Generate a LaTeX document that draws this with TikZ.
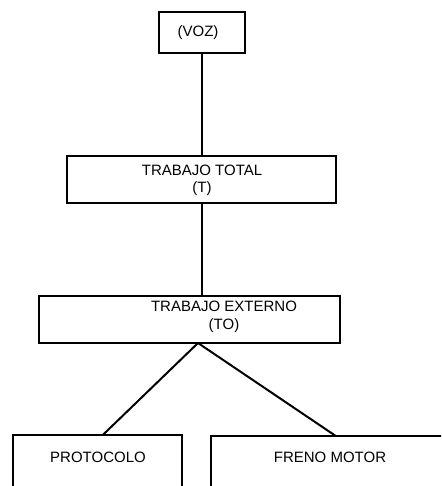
\documentclass[tikz,border=0pt]{standalone}
\usepackage{fontspec}
\setmainfont{Liberation Sans}
\begin{document}
\begin{tikzpicture}[x=1pt,y=-1pt,
  box/.style={draw, line width=2pt, inner sep=0pt},
  txt/.style={font=\fontsize{15}{17.5}\selectfont, align=center, inner sep=0pt},
  conn/.style={line width=2pt}]
\useasboundingbox (0,0) rectangle (441,486);
\clip (0,0) rectangle (441,486);
% boxes
\node[box, minimum width=86pt, minimum height=41pt] (voz) at (201.5,32.5) {};
\node[txt] (vozt) at (198,32.5) {(VOZ)};
\node[box, minimum width=269pt, minimum height=47pt] (tt) at (201.5,179.5) {};
\node[txt] (ttt) at (202,180.5) {TRABAJO TOTAL\\(T)};
\node[box, minimum width=301pt, minimum height=47pt] (to) at (189.5,319.5) {};
\node[txt] (tot) at (224,317) {TRABAJO EXTERNO\\(TO)};
\coordinate (apex) at (198,343);
% open-bottom boxes
\node[minimum width=169pt, minimum height=44pt, inner sep=0pt] (prot) at (97.5,457) {};
\node[txt] (prott) at (98,457) {PROTOCOLO};
\node[minimum width=249pt, minimum height=44pt, inner sep=0pt] (freno) at (335.5,458) {};
\node[txt] (frenot) at (330,457) {FRENO MOTOR};
\draw[conn] ([yshift=-40pt]prot.south west) -- (prot.north west) -- (prot.north east) -- ([yshift=-40pt]prot.south east);
\draw[conn] ([yshift=-40pt]freno.south west) -- (freno.north west) -- (freno.north east) -- ([yshift=-40pt]freno.south east);
% connectors
\draw[conn] (voz.south) -- (tt.north);
\draw[conn] (tt.south) -- (tt.south |- to.north);
\draw[conn] (apex) -- ([xshift=5.5pt]prot.north);
\draw[conn] (apex) -- (freno.north);
\end{tikzpicture}
\end{document}
